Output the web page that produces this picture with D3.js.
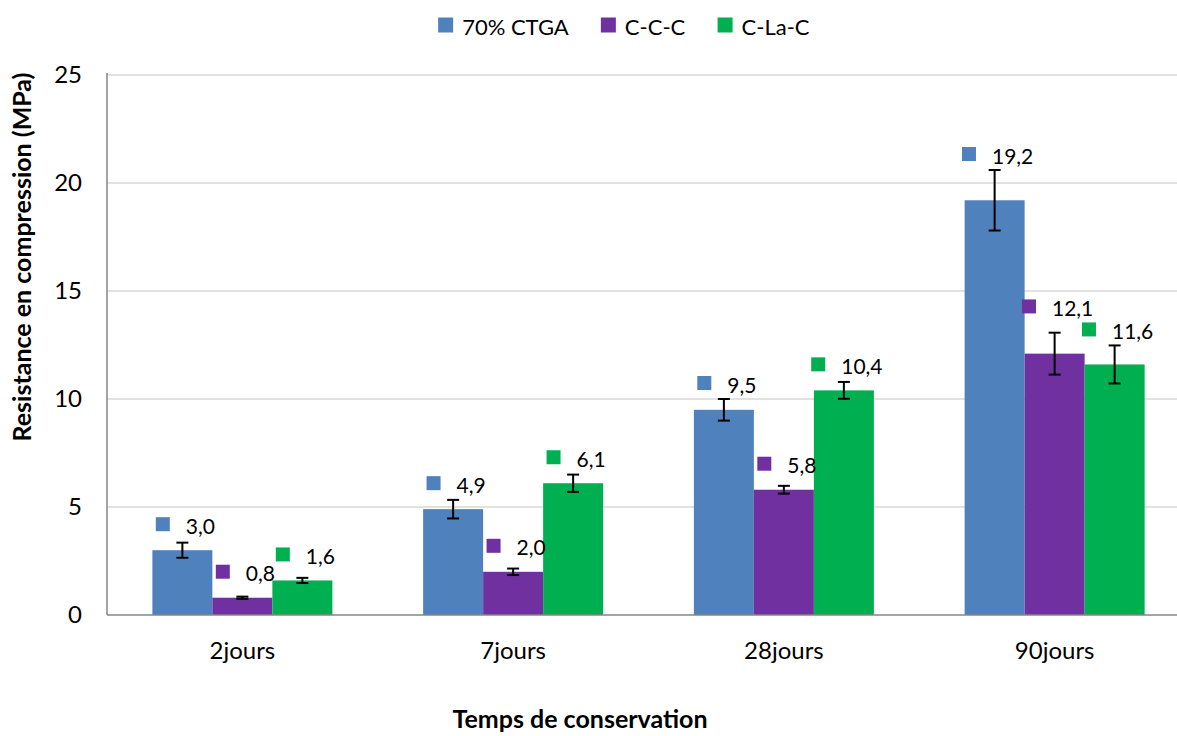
<!DOCTYPE html>
<html>
<head>
<meta charset="utf-8">
<script src="https://cdn.jsdelivr.net/npm/d3@7"></script>
<style>
  html, body { margin: 0; padding: 0; background: #fff; }
  svg { display: block; font-family: Lato, "Open Sans", sans-serif; }
</style>
</head>
<body>
<svg id="chart" width="1177" height="736"></svg>
<script>
// ---- data ----
const categories = ["2jours", "7jours", "28jours", "90jours"];
const seriesNames = ["70% CTGA", "C-C-C", "C-La-C"];
const ctgaValues = [3.0, 4.9, 9.5, 19.2];
const cccValues = [0.8, 2.0, 5.8, 12.1];
const clacValues = [1.6, 6.1, 10.4, 11.6];
const ctgaErrors = [0.35, 0.43, 0.5, 1.4];
const cccErrors = [0.05, 0.15, 0.18, 0.97];
const clacErrors = [0.12, 0.4, 0.39, 0.88];
const yTicks = [0, 5, 10, 15, 20, 25];
const xTitle = "Temps de conservation";
const yTitle = "Resistance en compression (MPa)";

// ---- styling ----
const colors = ["#4F81BD", "#7030A0", "#00B050"];
const seriesValues = [ctgaValues, cccValues, clacValues];
const seriesErrors = [ctgaErrors, cccErrors, clacErrors];

const svg = d3.select("#chart");
const plot = { left: 107, right: 1190, top: 75, bottom: 615 };

const x0 = d3.scaleBand().domain(categories).range([plot.left, plot.right]).paddingInner(0).paddingOuter(0);
const barW = 60;
const x1 = d3.scaleBand().domain(seriesNames).range([0, barW * 3]).padding(0);
const groupOffset = (x0.bandwidth() - barW * 3) / 2;
const y = d3.scaleLinear().domain([0, 25]).range([plot.bottom, plot.top]);

// gridlines
svg.append("g")
  .selectAll("line")
  .data(yTicks.filter(d => d > 0))
  .join("line")
  .attr("x1", plot.left).attr("x2", plot.right)
  .attr("y1", d => y(d)).attr("y2", d => y(d))
  .attr("stroke", "#D9D9D9").attr("stroke-width", 1.5);

// y axis labels
const yAxis = d3.axisLeft(y).tickValues(yTicks).tickSize(0).tickPadding(25);
const gy = svg.append("g").attr("transform", `translate(${plot.left},0)`).call(yAxis);
gy.select(".domain").remove();
gy.selectAll("text").attr("font-size", 24).attr("fill", "#000").attr("font-family", "Lato, sans-serif");

// x axis labels
const xAxis = d3.axisBottom(x0).tickSize(0).tickPadding(27);
const gx = svg.append("g").attr("transform", `translate(0,${plot.bottom})`).call(xAxis);
gx.select(".domain").remove();
gx.selectAll("text").attr("font-size", 24).attr("fill", "#000").attr("font-family", "Lato, sans-serif");

// flattened bar data
const bars = [];
categories.forEach((c, i) => {
  seriesNames.forEach((s, j) => {
    bars.push({ cat: c, i, series: s, j, value: seriesValues[j][i], err: seriesErrors[j][i] });
  });
});
const bx = d => x0(d.cat) + groupOffset + x1(d.series);

svg.append("g").selectAll("rect")
  .data(bars)
  .join("rect")
  .attr("x", bx)
  .attr("y", d => y(d.value))
  .attr("width", x1.bandwidth())
  .attr("height", d => y(0) - y(d.value))
  .attr("fill", d => colors[d.j]);

// axis lines
svg.append("line").attr("x1", plot.left).attr("x2", plot.left)
  .attr("y1", plot.top - 2).attr("y2", plot.bottom)
  .attr("stroke", "#868686").attr("stroke-width", 1.5);
svg.append("line").attr("x1", plot.left).attr("x2", plot.right)
  .attr("y1", plot.bottom).attr("y2", plot.bottom)
  .attr("stroke", "#868686").attr("stroke-width", 1.5);

// error bars
const eg = svg.append("g").attr("stroke", "#000").attr("stroke-width", 2);
bars.forEach(d => {
  const cx = bx(d) + x1.bandwidth() / 2;
  const yt = y(d.value + d.err), yb = y(d.value - d.err);
  eg.append("line").attr("x1", cx).attr("x2", cx).attr("y1", yt).attr("y2", yb);
  eg.append("line").attr("x1", cx - 6).attr("x2", cx + 6).attr("y1", yt).attr("y2", yt);
  eg.append("line").attr("x1", cx - 6).attr("x2", cx + 6).attr("y1", yb).attr("y2", yb);
});

// data labels (legend key + value)
const fmt = v => d3.format(".1f")(v).replace(".", ",");
const lg = svg.append("g");
const labels = bars.map(d => {
  const cx = bx(d) + x1.bandwidth() / 2;
  const cy = Math.min(y(d.value) - 26, y(d.value + d.err) - 16);
  const t = lg.append("text").text(fmt(d.value))
    .attr("font-size", 21).attr("dominant-baseline", "central");
  const tw = t.node().getComputedTextLength();
  const total = 14 + 16 + tw;
  const left = cx + 3 - total / 2;
  return { d, t, left, right: left + total, cy };
});
// simple collision avoidance within a group: lift the left label
for (let k = labels.length - 1; k > 0; k--) {
  const a = labels[k - 1], b = labels[k];
  if (a.d.i !== b.d.i) continue;
  if (a.right > b.left && Math.abs(a.cy - b.cy) < 23) {
    a.cy = Math.min(a.cy, b.cy - 23);
  }
}
labels.forEach(L => {
  lg.append("rect").attr("x", L.left).attr("y", L.cy - 7).attr("width", 14).attr("height", 14).attr("fill", colors[L.d.j]);
  L.t.attr("x", L.left + 30).attr("y", L.cy + 1);
});

// legend
const legend = svg.append("g");
const items = seriesNames.map((s, j) => ({ s, j }));
const lgItems = legend.selectAll("g").data(items).join("g");
lgItems.append("rect").attr("width", 15).attr("height", 15).attr("y", -7.5).attr("fill", d => colors[d.j]);
lgItems.append("text").text(d => d.s).attr("x", 24).attr("font-size", 22).attr("dominant-baseline", "central").attr("y", 1);
const widths = [];
lgItems.each(function () { widths.push(this.getBBox().width); });
const gap = 32;
const totalW = d3.sum(widths) + gap * (widths.length - 1);
const start = 624 - totalW / 2;
lgItems.attr("transform", (d, i) => {
  const tx = start + d3.sum(widths.slice(0, i)) + gap * i;
  return `translate(${tx},25)`;
});

// axis titles
svg.append("text").text(xTitle)
  .attr("x", 580).attr("y", 728)
  .attr("text-anchor", "middle")
  .attr("font-size", 25).attr("font-weight", "bold");
svg.append("text").text(yTitle)
  .attr("transform", "translate(31,257) rotate(-90)")
  .attr("text-anchor", "middle")
  .attr("font-size", 25).attr("font-weight", "bold");
</script>
</body>
</html>
